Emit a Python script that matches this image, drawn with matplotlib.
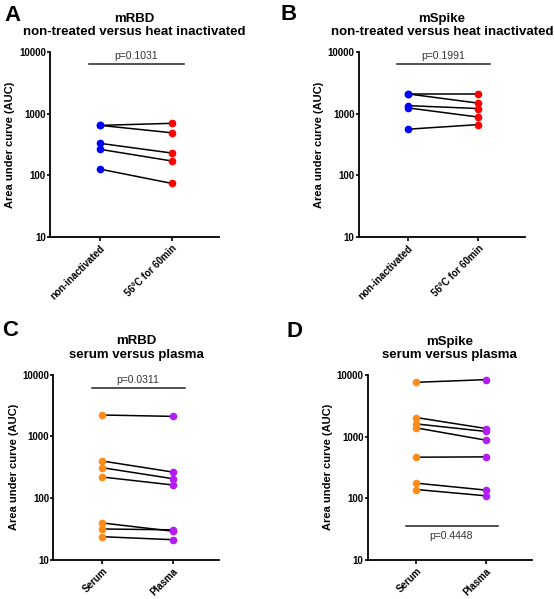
import matplotlib
matplotlib.use('Agg')
import matplotlib.pyplot as plt

plt.rcParams['font.family'] = ['Liberation Sans', 'DejaVu Sans']

# DATA
heat_labels = ['non-inactivated', '56°C for 60min']
sp_labels = ['Serum', 'Plasma']

rbd_heat_before = [646, 646, 330, 264, 126]
rbd_heat_after = [697, 490, 230, 171, 74]

spike_heat_before = [2090, 2090, 1350, 1240, 560]
spike_heat_after = [2090, 1480, 1210, 880, 665]

rbd_serum = [2220, 398, 310, 219, 39.4, 31.5, 23.6]
rbd_plasma = [2110, 264, 206, 163, 29, 30.5, 21.1]

spike_serum = [7610, 2036, 1604, 1381, 462, 175, 138]
spike_plasma = [8410, 1351, 1209, 873, 468, 135, 109]

p_values = ['p=0.1031', 'p=0.1991', 'p=0.0311', 'p=0.4448']
p_levels = [6500, 6500, 6000, 35]

# STYLE
BLUE = '#0000ff'
RED = '#ff0000'
ORANGE = '#ff8c1a'
PURPLE = '#b21ef2'

fig = plt.figure(figsize=(5.54, 5.99), dpi=100)

panels = [
    # letter, rect (px), title, labels, before, after, colors, index
    ('A', [50, 52, 219, 237], 'mRBD\nnon-treated versus heat inactivated', heat_labels,
     rbd_heat_before, rbd_heat_after, (BLUE, RED), 0),
    ('B', [358.7, 52, 525, 237], 'mSpike\nnon-treated versus heat inactivated', heat_labels,
     spike_heat_before, spike_heat_after, (BLUE, RED), 1),
    ('C', [53.3, 374.7, 219, 559.7], 'mRBD\nserum versus plasma', sp_labels,
     rbd_serum, rbd_plasma, (ORANGE, PURPLE), 2),
    ('D', [367.7, 375, 532, 559.7], 'mSpike\nserum versus plasma', sp_labels,
     spike_serum, spike_plasma, (ORANGE, PURPLE), 3),
]
letter_pos = {'A': (4, 21), 'B': (280, 20), 'C': (2, 336), 'D': (287, 337)}

W, H = 554, 599

for letter, (x0, y0, x1, y1), title, labels, before, after, cols, i in panels:
    ax = fig.add_axes([x0 / W, 1 - y1 / H, (x1 - x0) / W, (y1 - y0) / H])

    for a, b in zip(before, after):
        ax.plot([0, 1], [a, b], color='black', lw=1.1, zorder=2)
    ax.plot([0] * len(before), before, 'o', color=cols[0], ms=4.5, zorder=3)
    ax.plot([1] * len(after), after, 'o', color=cols[1], ms=4.5, zorder=3)

    # p-value bar
    lvl = p_levels[i]
    ax.plot([-0.15, 1.17], [lvl, lvl], color='#222222', lw=1.1, zorder=2)
    if lvl > 1000:
        ax.text(0.5, lvl * 1.12, p_values[i], ha='center', va='bottom', fontsize=7.5, color='#333333')
    else:
        ax.text(0.5, lvl / 1.2, p_values[i], ha='center', va='top', fontsize=7.5, color='#333333')

    ax.set_yscale('log')
    ax.set_ylim(10, 10000)
    ax.set_xlim(-0.7, 1.66)
    ax.set_yticks([10, 100, 1000, 10000])
    ax.set_yticklabels(['10', '100', '1000', '10000'], fontweight='bold', fontsize=7)
    ax.minorticks_off()
    ax.set_xticks([0, 1])
    ax.set_xticklabels(labels, rotation=45, ha='right', rotation_mode='anchor',
                       fontweight='bold', fontsize=7)
    ax.tick_params(axis='y', width=1.2, length=2.5, pad=0.5)
    ax.tick_params(axis='x', width=1.2, length=3, pad=1.5)

    ax.spines['top'].set_visible(False)
    ax.spines['right'].set_visible(False)
    ax.spines['left'].set_linewidth(1.3)
    ax.spines['bottom'].set_linewidth(1.3)

    ax.set_ylabel('Area under curve (AUC)', fontweight='bold', fontsize=8, labelpad=2.5)
    ax.set_title(title, fontweight='bold', fontsize=9.5, pad=12, linespacing=1.2)

    lx, ly = letter_pos[letter]
    fig.text(lx / W, 1 - ly / H, letter, fontsize=16, fontweight='bold', va='baseline')

fig.savefig('out.png', dpi=100)
